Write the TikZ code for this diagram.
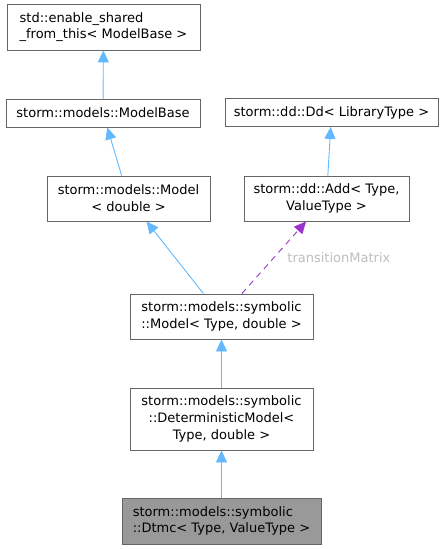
\documentclass[tikz,border=0pt]{standalone}
\usepackage{fontspec}
\setmainfont{DejaVu Sans}
\usetikzlibrary{arrows.meta}
\definecolor{edgeblue}{HTML}{63B8FF}
\definecolor{edgepurple}{HTML}{9A32CD}
\definecolor{boxgray}{HTML}{666666}
\definecolor{curfill}{HTML}{999999}
\definecolor{lblgray}{HTML}{BEBEBE}
\tikzset{cls/.style={draw=boxgray, fill=white, rectangle, inner sep=2pt,
  font=\fontsize{13}{16.7}\selectfont, line width=0.9pt},
  lbl/.style={draw=none, fill=none, inner sep=1pt, text=lblgray,
  font=\fontsize{13}{16.7}\selectfont}}

\begin{document}
\begin{tikzpicture}[x=1pt, y=-1pt, >={Triangle[length=12pt, width=11pt]}]
  \useasboundingbox (0, 0) rectangle (445, 549);
  \node[cls, align=left, minimum width=193pt, minimum height=46pt] (esft)
    at (103.5, 27) {std::enable\_shared\\\_from\_this< ModelBase >};
  \node[cls, minimum width=194pt, minimum height=28pt] (mbase)
    at (103, 113) {storm::models::ModelBase};
  \node[cls, align=center, minimum width=163pt, minimum height=45pt] (model)
    at (128.5, 198.5) {storm::models::Model\\< double >};
  \node[cls, minimum width=213pt, minimum height=28pt] (dd)
    at (331.5, 112.5) {storm::dd::Dd< LibraryType >};
  \node[cls, align=center, minimum width=165pt, minimum height=45pt] (add)
    at (326.5, 198.5) {storm::dd::Add< Type,\\ValueType >};
  \node[cls, align=center, minimum width=183pt, minimum height=45pt] (symmodel)
    at (221.5, 316.5) {storm::models::symbolic\\::Model< Type, double >};
  \node[cls, align=center, minimum width=183pt, minimum height=62pt] (detmodel)
    at (221.5, 419) {storm::models::symbolic\\::DeterministicModel<\\Type, double >};
  \node[cls, fill=curfill, align=left, minimum width=199pt, minimum height=46pt] (dtmc)
    at (221.5, 521) {storm::models::symbolic\\::Dtmc< Type, ValueType >};
  % inheritance
  \draw[->, edgeblue, line width=0.9pt] (mbase) -- (esft);
  \draw[->, edgeblue, line width=0.9pt] (model) -- (mbase);
  \draw[->, edgeblue, line width=0.9pt] (add) -- (dd);
  \draw[->, edgeblue, line width=0.9pt] (symmodel) -- (model);
  \draw[->, edgeblue, line width=0.9pt] (detmodel) -- (symmodel);
  \draw[->, edgeblue, line width=0.9pt] (dtmc) -- (detmodel);
  % usage
  \draw[->, edgepurple, line width=0.9pt, dash pattern=on 6pt off 5pt]
    (symmodel) -- node[lbl, right=12pt] {transitionMatrix} (add);
\end{tikzpicture}
\end{document}
